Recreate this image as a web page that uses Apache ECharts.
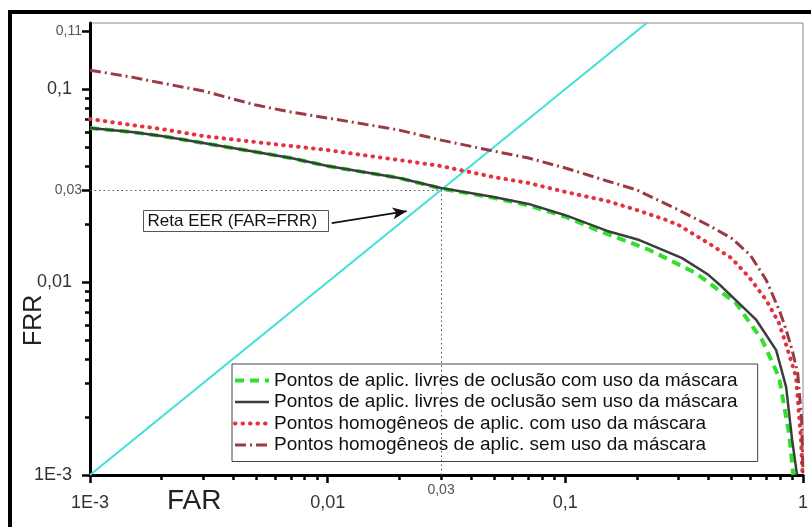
<!DOCTYPE html>
<html><head><meta charset="utf-8">
<script src="https://cdn.jsdelivr.net/npm/echarts@6/dist/echarts.min.js"></script>
<style>html,body{margin:0;padding:0;background:#fff}#c{width:811px;height:527px}</style>
</head><body><div id="c"></div>
<script>
const seriesNames = [
  'Pontos de aplic. livres de oclusão com uso da máscara',
  'Pontos de aplic. livres de oclusão sem uso da máscara',
  'Pontos homogêneos de aplic. com uso da máscara',
  'Pontos homogêneos de aplic. sem uso da máscara'
];
const greenX = [0.001, 0.0015, 0.002, 0.003, 0.005, 0.007, 0.01, 0.015, 0.02, 0.03, 0.05, 0.07, 0.1, 0.136, 0.225, 0.355, 0.522, 0.673, 0.792, 0.873, 0.91];
const greenY = [0.0628, 0.0599, 0.0571, 0.0525, 0.0472, 0.0439, 0.0399, 0.0367, 0.0346, 0.0305, 0.0273, 0.0250, 0.0218, 0.0186, 0.0147, 0.0111, 0.00778, 0.00500, 0.00322, 0.00165, 0.001];
const grayX = [0.001, 0.0015, 0.002, 0.003, 0.005, 0.007, 0.01, 0.015, 0.02, 0.03, 0.05, 0.07, 0.1, 0.15, 0.205, 0.31, 0.4, 0.457, 0.636, 0.771, 0.849, 0.9, 0.944];
const grayY = [0.0628, 0.0599, 0.0571, 0.0525, 0.0472, 0.0439, 0.0399, 0.0367, 0.0346, 0.0307, 0.0276, 0.0254, 0.0222, 0.0184, 0.0165, 0.0133, 0.0109, 0.00942, 0.00636, 0.00444, 0.00286, 0.00152, 0.001];
const redX = [0.001, 0.0015, 0.002, 0.003, 0.005, 0.007, 0.01, 0.015, 0.02, 0.03, 0.05, 0.07, 0.1, 0.15, 0.2, 0.265, 0.3, 0.4, 0.5, 0.593, 0.7, 0.792, 0.85, 0.935, 0.981, 0.995];
const redY = [0.0700, 0.0651, 0.0621, 0.0571, 0.0531, 0.0507, 0.0483, 0.0450, 0.0429, 0.0399, 0.0350, 0.0326, 0.0293, 0.0263, 0.0236, 0.0210, 0.0197, 0.0159, 0.0133, 0.0106, 0.00807, 0.00613, 0.00472, 0.00322, 0.00152, 0.001];
const brownX = [0.001, 0.0015, 0.002, 0.003, 0.005, 0.007, 0.01, 0.015, 0.02, 0.03, 0.05, 0.07, 0.1, 0.15, 0.2, 0.3, 0.4, 0.5, 0.6, 0.7, 0.8, 0.85, 0.9, 0.95, 0.987, 1.0];
const brownY = [0.1253, 0.1153, 0.1075, 0.0977, 0.0826, 0.0760, 0.0708, 0.0651, 0.0613, 0.0544, 0.0477, 0.0439, 0.0390, 0.0334, 0.0300, 0.0236, 0.0197, 0.0169, 0.0138, 0.01024, 0.0070, 0.00564, 0.00444, 0.00338, 0.00193, 0.001];
const eerX = [0.001, 0.22];
const eerY = [0.001, 0.22];
const eerPoint = 0.03;

const xLabelValues = [0.001, 0.01, 0.03, 0.1, 1];
const xLabelTexts = ['1E-3', '0,01', '0,03', '0,1', '1'];
const xMajorTicks = [0.001, 0.01, 0.1, 1];
const xMinorTicks = [0.002,0.003,0.004,0.005,0.006,0.007,0.008,0.009,0.02,0.03,0.04,0.05,0.06,0.07,0.08,0.09,0.2,0.3,0.4,0.5,0.6,0.7,0.8,0.9];
const yLabelValues = [0.001, 0.01, 0.03, 0.1, 0.2];
const yLabelTexts = ['1E-3', '0,01', '0,03', '0,1', '0,11'];
const yMajorTicks = [0.001, 0.01, 0.03, 0.1, 0.2];
const yMinorTicks = [0.002,0.003,0.004,0.005,0.006,0.007,0.008,0.009,0.02,0.04,0.05,0.06,0.07,0.08,0.09];
const smallLabels = ['0,03', '0,11'];

const FONT = '"Liberation Sans", Arial, sans-serif';
const zip = (xs, ys) => xs.map((x, i) => [x, ys[i]]);
const fmt = (vals, texts) => v => {
  let idx = vals.findIndex(a => Math.abs(Math.log10(a) - Math.log10(v)) < 1e-6);
  if (idx < 0) return '';
  const t = texts[idx];
  return smallLabels.includes(t) ? '{s|' + t + '}' : '{b|' + t + '}';
};

const styles = [
  {color: '#2fe02f', width: 4, type: [9, 6]},
  {color: '#3c3c3c', width: 2.5, type: 'solid'},
  {color: '#e8303c', width: 4, type: [0.5, 7], cap: 'round'},
  {color: '#9a3a44', width: 3, type: [11, 4, 2, 4]}
];
const zs = [3, 4, 5, 5];
const dataSets = [zip(greenX, greenY), zip(grayX, grayY), zip(redX, redY), zip(brownX, brownY)];

const chart = echarts.init(document.getElementById('c'), null, {renderer: 'canvas'});
const option = {
  animation: false,
  backgroundColor: '#fff',
  grid: {left: 90, right: 6, top: 23, bottom: 52, show: true, borderColor: '#888', borderWidth: 1},
  legend: {
    orient: 'vertical', left: 232, top: 364,
    padding: [7, 20, 7, 1], itemGap: 2.5, itemWidth: 34, itemHeight: 14,
    borderColor: '#444', borderWidth: 1, backgroundColor: '#fff', borderRadius: 0,
    itemStyle: {opacity: 0},
    textStyle: {fontFamily: FONT, fontSize: 19, lineHeight: 19, color: '#111'},
    data: seriesNames.map((n, i) => ({name: n, lineStyle: Object.assign({}, styles[i])}))
  },
  xAxis: [{
    type: 'log', logBase: 10, min: 0.001, max: 1, position: 'bottom',
    axisLine: {lineStyle: {color: '#000', width: 3}},
    axisTick: {show: true, length: 8, lineStyle: {color: '#000', width: 2.5}, customValues: xMajorTicks},
    axisLabel: {
      customValues: xLabelValues, margin: 8, formatter: fmt(xLabelValues, xLabelTexts),
      rich: {b: {fontFamily: FONT, fontSize: 18, color: '#333', padding: [11, 0, 0, 0]},
             s: {fontFamily: FONT, fontSize: 14, color: '#555'}}
    },
    splitLine: {show: false}, minorSplitLine: {show: false}
  }, {
    type: 'log', logBase: 10, min: 0.001, max: 1, position: 'bottom', gridIndex: 0,
    axisLine: {show: false},
    axisTick: {show: true, length: 5, lineStyle: {color: '#000', width: 2.5}, customValues: xMinorTicks},
    axisLabel: {show: false}, splitLine: {show: false}
  }],
  yAxis: [{
    type: 'log', logBase: 10, min: 0.001, max: 0.22, position: 'left',
    axisLine: {show: true, lineStyle: {color: '#000', width: 3}},
    axisTick: {show: true, length: 8, lineStyle: {color: '#000', width: 2.5}, customValues: yMajorTicks},
    axisLabel: {
      customValues: yLabelValues, margin: 8, formatter: fmt(yLabelValues, yLabelTexts),
      rich: {b: {fontFamily: FONT, fontSize: 18, color: '#333', padding: [0, 10, 0, 0]},
             s: {fontFamily: FONT, fontSize: 14, color: '#555'}}
    },
    splitLine: {show: false}
  }, {
    type: 'log', logBase: 10, min: 0.001, max: 0.22, position: 'left', gridIndex: 0,
    axisLine: {show: false},
    axisTick: {show: true, length: 5, lineStyle: {color: '#000', width: 2.5}, customValues: yMinorTicks},
    axisLabel: {show: false}, splitLine: {show: false}
  }],
  series: [
    {
      name: 'EER', type: 'line', data: zip(eerX, eerY), symbol: 'none', silent: true,
      lineStyle: {color: '#3fe0d6', width: 2}, z: 1,
      markLine: {
        silent: true, symbol: ['none', 'none'], label: {show: false},
        lineStyle: {color: '#555', type: [1.5, 3], width: 1},
        data: [
          [{coord: [0.001, eerPoint]}, {coord: [eerPoint, eerPoint]}],
          [{coord: [eerPoint, eerPoint]}, {coord: [eerPoint, 0.001]}],
          [{coord: [0.0104, 0.0202], lineStyle: {color: '#111', type: 'solid', width: 1.8}},
           {coord: [0.0215, 0.0233], symbol: 'arrow', symbolSize: [9, 14]}]
        ]
      }
    }
  ].concat(seriesNames.map((n, i) => ({
    name: n, type: 'line', data: dataSets[i], symbol: 'none', z: zs[i],
    itemStyle: {color: styles[i].color}, lineStyle: styles[i]
  }))),
  graphic: [
    {type: 'rect', shape: {x: 10, y: 12, width: 830, height: 560}, style: {fill: 'none', stroke: '#000', lineWidth: 4}, z: 100},
    {type: 'group', left: 143, top: 210, z: 50, children: [
      {type: 'rect', shape: {x: 0, y: 0, width: 185, height: 21}, style: {fill: '#fff', stroke: '#555', lineWidth: 1}},
      {type: 'text', x: 4, y: 11, style: {text: 'Reta EER (FAR=FRR)', font: '17px ' + FONT, fill: '#111', verticalAlign: 'middle'}}
    ]},
    {type: 'text', left: 167, top: 487, style: {text: 'FAR', font: '28px ' + FONT, fill: '#222'}},
    {type: 'text', x: 22, y: 346, rotation: Math.PI / 2, style: {text: 'FRR', font: '25px ' + FONT, fill: '#222'}}
  ]
};
chart.setOption(option);
</script>
</body></html>
